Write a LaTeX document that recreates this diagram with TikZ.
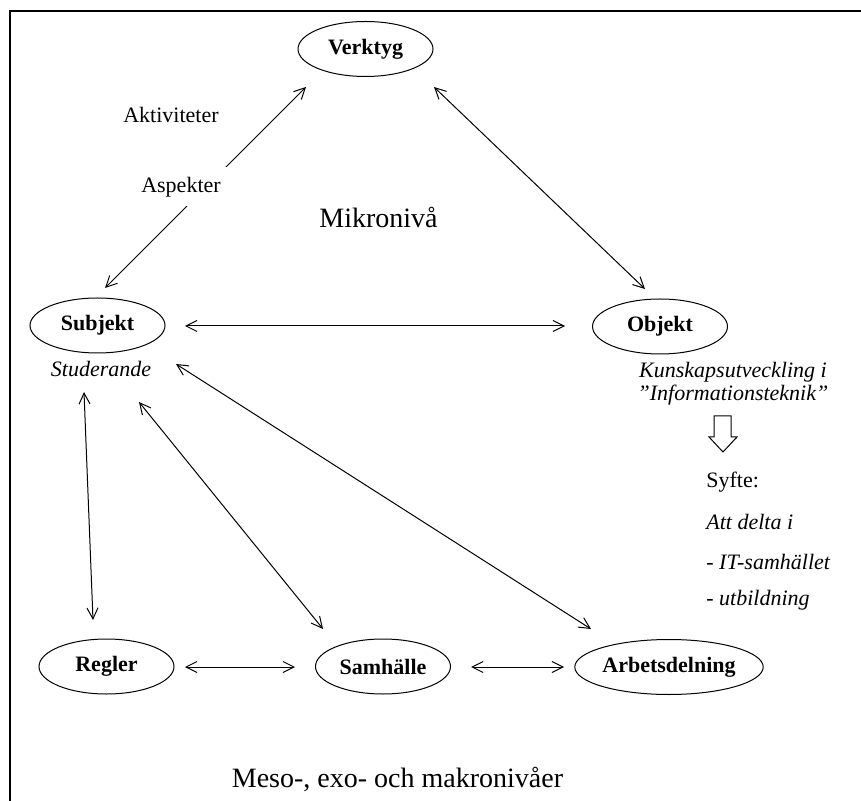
\documentclass[tikz,border=0pt]{standalone}
\usepackage{fontspec}
\setmainfont{Liberation Serif}
\usetikzlibrary{arrows.meta,shapes.geometric}
\begin{document}
\begin{tikzpicture}[x=0.5pt,y=-0.5pt,
  ell/.style={draw,ellipse,line width=0.5pt,inner sep=0pt,minimum width=67.5pt,minimum height=27.5pt,font=\fontsize{11}{13}\selectfont\bfseries},
  dbl/.style={{Straight Barb[length=5.5pt,width=5.5pt]}-{Straight Barb[length=5.5pt,width=5.5pt]}, line width=0.5pt},
  txt/.style={font=\fontsize{11}{13}\selectfont, inner sep=0pt},
  itx/.style={font=\fontsize{11}{13}\selectfont\itshape, inner sep=0pt},
  big/.style={font=\fontsize{14}{17}\selectfont, inner sep=0pt},
  frame/.style={line width=1pt}]
\useasboundingbox (0,0) rectangle (861,801);
% frame (open at right and bottom)
\draw[frame] (10,801) -- (10,11) -- (861,11);

% ellipse nodes
\node[ell] (verk) at (365.5,49) {Verktyg};
\node[ell] (subj) at (97.5,325.5) {Subjekt};
\node[ell] (obj)  at (660,326.5) {Objekt};
\node[ell] (regl) at (106.5,666.5) {Regler};
\node[ell] (samh) at (383,666.5) {Samhälle};
\node[ell, minimum width=94pt] (arbd) at (669,667) {Arbetsdelning};

% texts
\node[txt] (akt) at (171,115) {Aktiviteter};
\node[big] (mikro) at (378.5,218) {Mikronivå};
\node[itx] (stud) at (101,369) {Studerande};
\node[itx, align=center, font=\fontsize{11}{11.5}\selectfont\itshape] (kun) at (733,383.5) {Kunskapsutveckling i\\”Informationsteknik”};
\node[txt, anchor=west] (syfte) at (706,482) {Syfte:};
\node[itx, anchor=west] (att) at (706,522) {Att delta i};
\node[itx, anchor=west] (its) at (706,562) {- IT-samhället};
\node[itx, anchor=west] (utb) at (706,600) {- utbildning};
\node[big] (meso) at (397.5,780) {Meso-, exo- och makronivåer};

% hollow down arrow
\draw[line width=0.5pt] (714,416) -- (731,416) -- (731,437) -- (737,437) -- (723,452) -- (709,437) -- (714,437) -- cycle;

% connectors
\draw[dbl] ([shift={(7.5,-37.5)}]subj.center) -- ([shift={(-59.5,38)}]verk.center);
\draw[dbl] ([shift={(68.5,38)}]verk.center) -- ([shift={(-15,-37.5)}]obj.center);
\draw[dbl] ([shift={(87.5,0.5)}]subj.center) -- ([shift={(-95,-0.5)}]obj.center);
\draw[dbl] ([shift={(-13.5,66.5)}]subj.center) -- ([shift={(-13.5,-46.5)}]regl.center);
\draw[dbl] ([shift={(41.5,76.5)}]subj.center) -- ([shift={(-60,-37.5)}]samh.center);
\draw[dbl] ([shift={(78.5,38.5)}]subj.center) -- ([shift={(-78,-38)}]arbd.center);
\draw[dbl] ([shift={(78.5,0.5)}]regl.center) -- ([shift={(-88,0.5)}]samh.center);
\draw[dbl] ([shift={(88,0.5)}]samh.center) -- ([shift={(-105,0)}]arbd.center);

% label that interrupts the Subjekt--Verktyg line
\node[txt, fill=white, minimum width=46pt, minimum height=19.5pt] (asp) at (181,187) {Aspekter};
\end{tikzpicture}
\end{document}
